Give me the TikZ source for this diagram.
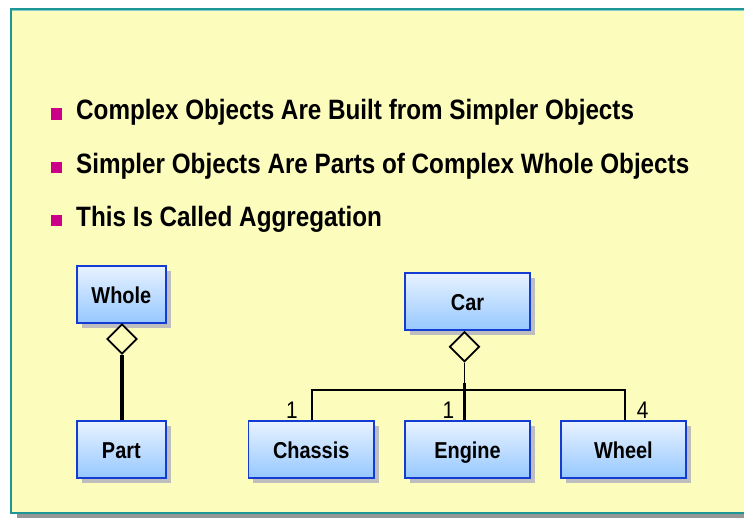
\documentclass[tikz,border=0pt]{standalone}
\usepackage{fontspec}
\usetikzlibrary{shapes.geometric,shadows}
\newfontfamily\narfont[FakeStretch=0.866]{Liberation Sans}
\definecolor{panelfill}{RGB}{252,252,188}
\definecolor{panelteal}{RGB}{30,150,150}
\definecolor{panellight}{RGB}{130,205,205}
\definecolor{panelshadow}{RGB}{150,150,150}
\definecolor{boxblue}{RGB}{20,60,210}
\definecolor{boxtop}{RGB}{232,242,255}
\definecolor{boxbot}{RGB}{150,200,255}
\definecolor{boxshadow}{RGB}{190,190,190}
\definecolor{bulletmag}{RGB}{204,0,136}
\tikzset{
  umlbox/.style={draw=boxblue, line width=1.8pt, top color=boxtop, bottom color=boxbot,
    inner sep=0pt, minimum height=57pt, text height=22pt, text depth=4pt,
    font=\narfont\bfseries\fontsize{23}{26}\selectfont,
    drop shadow={shadow xshift=5pt, shadow yshift=-5pt, fill=boxshadow, opacity=1}},
  smallbox/.style={umlbox, minimum width=89pt},
  widebox/.style={umlbox, minimum width=125.5pt},
  aggdiamond/.style={diamond, draw=black, line width=1.8pt, fill=panelfill, inner sep=0pt,
    minimum width=30pt, minimum height=30pt},
  bullettext/.style={anchor=base west, inner sep=0pt, font=\narfont\bfseries\fontsize{28}{32}\selectfont},
  bulletsq/.style={fill=bulletmag, inner sep=0pt, minimum width=11.5pt, minimum height=11.5pt},
  multlabel/.style={anchor=base, inner sep=0pt, font=\narfont\fontsize{24}{28}\selectfont},
  thinconn/.style={line width=1.7pt},
  thickconn/.style={line width=3.2pt}
}
\begin{document}
\begin{tikzpicture}[x=1pt,y=-1pt]
\useasboundingbox (0,0) rectangle (744,518);
% panel shadow and panel
\fill[panelshadow] (17,14) rectangle (760,518);
\fill[panelfill] (10,8.5) rectangle (760,514);
\draw[panellight, line width=1pt] (11.8,10.3) -- (760,10.3);
\draw[panellight, line width=1pt] (11.8,10.3) -- (11.8,512.2);
\draw[panelteal, line width=2pt] (760,9.3) -- (10.8,9.3) -- (10.8,513.2) -- (760,513.2);

% bullets
\node[bulletsq] (b1) at (56.7,113.8) {};
\node[bulletsq] (b2) at (56.7,167.5) {};
\node[bulletsq] (b3) at (56.7,220.3) {};
\node[bullettext] (t1) at (76,120) {Complex Objects Are Built from Simpler Objects};
\node[bullettext] (t2) at (76,173.5) {Simpler Objects Are Parts of Complex Whole Objects};
\node[bullettext] (t3) at (76,227) {This Is Called Aggregation};

% left diagram
\node[smallbox] (whole) at (121.35,294.2) {Whole};
\node[smallbox] (part) at (121.35,449.6) {Part};
\node[aggdiamond] (wd) at (122,339) {};
\draw[thickconn] (wd.south) -- (wd.south |- part.north);

% right diagram
\node[widebox] (car) at (467.5,301.7) {Car};
\node[widebox] (chassis) at (311.2,449.6) {Chassis};
\node[widebox] (engine) at (467.5,449.6) {Engine};
\node[widebox] (wheel) at (623.4,449.6) {Wheel};
\node[aggdiamond] (cd) at (464.5,346.7) {};
\coordinate (busL) at (311.7,390);
\coordinate (busR) at (625,390);
\coordinate (tk) at (464.5,383.3);
\draw[thinconn] (cd.south) -- (cd.south |- busL);
\draw[thinconn] (chassis.north -| busL) -- (busL) -- (busR) -- (wheel.north -| busR);
\draw[thickconn] (tk) -- (tk |- engine.north);
\node[multlabel] (m1) at (292,418) {1};
\node[multlabel] (m2) at (448.5,418) {1};
\node[multlabel] (m3) at (642.7,418) {4};
\end{tikzpicture}
\end{document}
